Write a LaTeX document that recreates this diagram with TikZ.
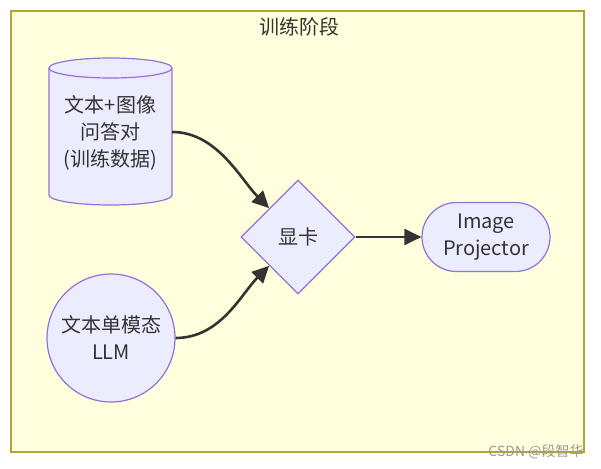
\documentclass[tikz,border=0pt]{standalone}
\usepackage{fontspec}
\setmainfont{Noto Sans CJK SC}
\usetikzlibrary{shapes.geometric,arrows.meta}
\definecolor{nodefill}{HTML}{ECECFF}
\definecolor{nodeline}{HTML}{9370DB}
\definecolor{clusterfill}{HTML}{FFFFDE}
\definecolor{clusterline}{HTML}{AAAA33}
\definecolor{txt}{HTML}{333333}
\definecolor{edge}{HTML}{333333}
\tikzset{
  box/.style={draw=nodeline, fill=nodefill, line width=1.2pt, text=txt, align=center,
    font=\fontsize{20}{27}\selectfont, inner sep=0pt},
  link/.style={draw=edge, line width=2.6pt, -{Triangle[length=17pt,width=16pt]}},
}
\begin{document}
\begin{tikzpicture}[x=1pt,y=-1pt]
\useasboundingbox (0,0) rectangle (601,468);
\fill[white] (0,0) rectangle (601,468);
\draw[draw=clusterline, fill=clusterfill, line width=1.3pt] (11,11) rectangle (584,452);
\node[text=txt, font=\fontsize{20}{24}\selectfont] (title) at (299,27) {训练阶段};
% cylinder
\node[inner sep=0pt, minimum width=123pt, minimum height=147pt] (cylbox) at (110.5,131.5) {};
\draw[draw=nodeline, fill=nodefill, line width=1.2pt]
  (49,68) -- (49,195) arc[start angle=180, end angle=0, x radius=61.5, y radius=10]
  -- (172,68) arc[start angle=0, end angle=-180, x radius=61.5, y radius=10] -- cycle;
\draw[draw=nodeline, line width=1.2pt] (49,68) arc[start angle=180, end angle=0, x radius=61.5, y radius=10];
\node[text=txt, align=center, font=\fontsize{20}{27}\selectfont] (cyl) at (110.5,133) {文本+图像\\问答对\\(训练数据)};
% circle
\node[box, circle, minimum size=128pt] (llm) at (111,338) {文本单模态\\LLM};
% diamond
\node[box, diamond, minimum width=114pt, minimum height=114pt, aspect=1] (gpu) at (298,237) {显卡};
% stadium
\node[box, rectangle, rounded corners=34.5pt, minimum width=128pt, minimum height=69pt] (proj) at (486,237) {Image\\Projector};
% edges
\draw[link] (cylbox.east |- 0,132) .. controls +(45,0) and +(-28,-28) .. (gpu.north west);
\draw[link] (llm.east) .. controls +(45,0) and +(-28,28) .. (gpu.south west);
\draw[link] (gpu.east) -- (proj.west);
% watermark
\node[text=black!40, font=\fontsize{14}{16}\selectfont] (wm) at (536,452) {CSDN @段智华};
\end{tikzpicture}
\end{document}
